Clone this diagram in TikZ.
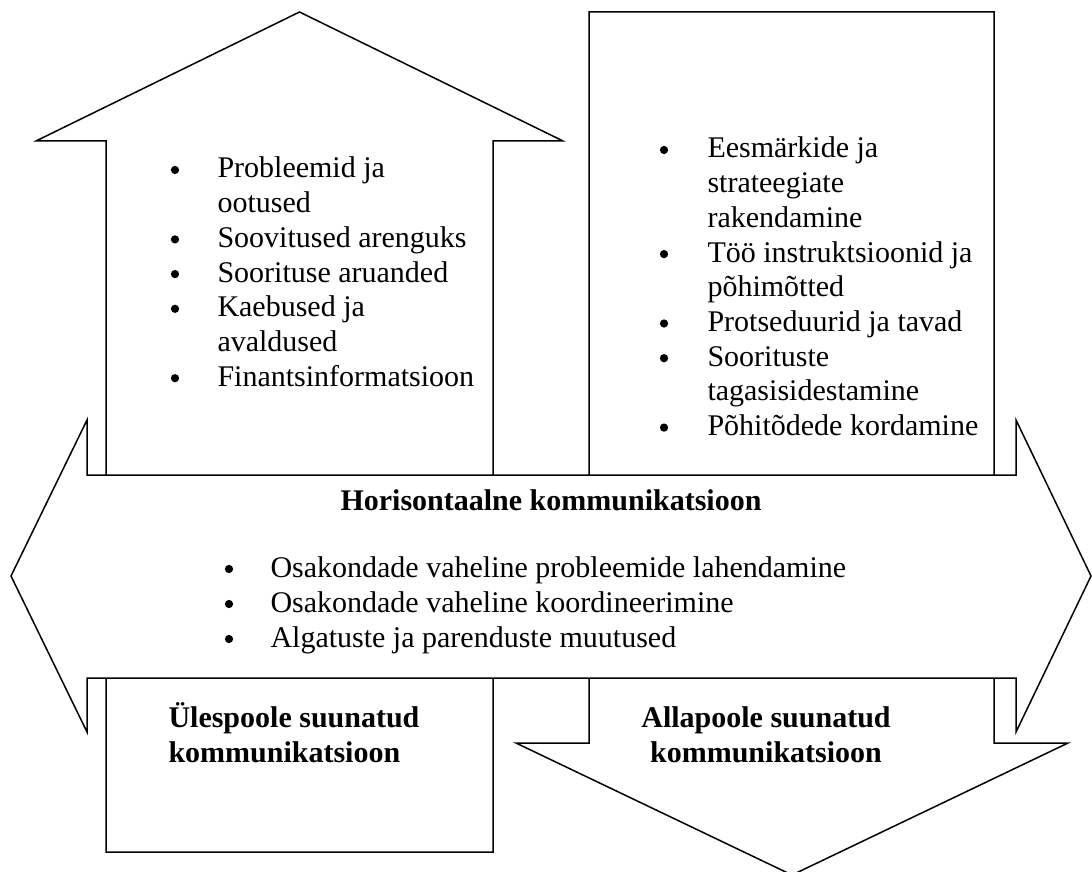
\documentclass[tikz,border=0pt]{standalone}
\usepackage{fontspec}
\setmainfont{Liberation Serif}
\usetikzlibrary{positioning}
\newcommand{\diagfont}{\fontsize{12}{13.9}\selectfont}

\begin{document}
\begin{tikzpicture}[x=0.4pt,y=-0.4pt,
  arrowshape/.style={draw,fill=white,line width=0.6pt,line join=miter},
  dot/.style={circle,fill,inner sep=0pt,minimum size=3.3pt,yshift=3.2pt},
  entry/.style={anchor=base west,inner sep=0pt,font=\diagfont},
  heading/.style={anchor=base,inner sep=0pt,font=\diagfont\bfseries}]
  \useasboundingbox (0,0) rectangle (1092,872);
  % upward communication arrow
  \draw[arrowshape] (106,852) -- (106,141) -- (36,141) -- (299.5,12)
    -- (563,141) -- (493,141) -- (493,852) -- cycle;
  % downward communication arrow
  \draw[arrowshape] (589,12) -- (994,12) -- (994,743) -- (1068,743)
    -- (792,875) -- (516,743) -- (589,743) -- cycle;
  % horizontal double arrow, on top of both
  \draw[arrowshape] (87,475) -- (87,420) -- (11,576) -- (87,732) -- (87,678)
    -- (1016,678) -- (1016,732) -- (1091,576) -- (1016,420) -- (1016,475) -- cycle;
  % items going up
  \node[dot] (ub1) at (175,178) {};
  \node[entry] (ut1) at (217,178) {Probleemid ja};
  \node[entry] (ut1b) at (217,212.7) {ootused};
  \node[dot] (ub2) at (175,247.4) {};
  \node[entry] (ut2) at (217,247.4) {Soovitused arenguks};
  \node[dot] (ub3) at (175,282.1) {};
  \node[entry] (ut3) at (217,282.1) {Soorituse aruanded};
  \node[dot] (ub4) at (175,316.8) {};
  \node[entry] (ut4) at (217,316.8) {Kaebused ja};
  \node[entry] (ut4b) at (217,351.5) {avaldused};
  \node[dot] (ub5) at (175,386.2) {};
  \node[entry] (ut5) at (217,386.2) {Finantsinformatsioon};
  % items going down
  \node[dot] (db1) at (664,158) {};
  \node[entry] (dt1) at (707,158) {Eesmärkide ja};
  \node[entry] (dt1b) at (707,192.7) {strateegiate};
  \node[entry] (dt1c) at (707,227.4) {rakendamine};
  \node[dot] (db2) at (664,262.1) {};
  \node[entry] (dt2) at (707,262.1) {Töö instruktsioonid ja};
  \node[entry] (dt2b) at (707,296.8) {põhimõtted};
  \node[dot] (db3) at (664,331.5) {};
  \node[entry] (dt3) at (707,331.5) {Protseduurid ja tavad};
  \node[dot] (db4) at (664,366.2) {};
  \node[entry] (dt4) at (707,366.2) {Soorituste};
  \node[entry] (dt4b) at (707,400.9) {tagasisidestamine};
  \node[dot] (db5) at (664,435.6) {};
  \node[entry] (dt5) at (707,435.6) {Põhitõdede kordamine};
  % horizontal items
  \node[heading] (htitle) at (551,510) {Horisontaalne kommunikatsioon};
  \node[dot] (hb1) at (229,577) {};
  \node[entry] (ht1) at (270,577) {Osakondade vaheline probleemide lahendamine};
  \node[dot] (hb2) at (229,612) {};
  \node[entry] (ht2) at (270,612) {Osakondade vaheline koordineerimine};
  \node[dot] (hb3) at (229,647) {};
  \node[entry] (ht3) at (270,647) {Algatuste ja parenduste muutused};
  % arrow names
  \node[heading,anchor=base west] (uptitle) at (168,727) {Ülespoole suunatud};
  \node[heading,anchor=base west] (uptitleb) at (168,762) {kommunikatsioon};
  \node[heading] (downtitle) at (766,727) {Allapoole suunatud};
  \node[heading] (downtitleb) at (766,762) {kommunikatsioon};
\end{tikzpicture}
\end{document}
